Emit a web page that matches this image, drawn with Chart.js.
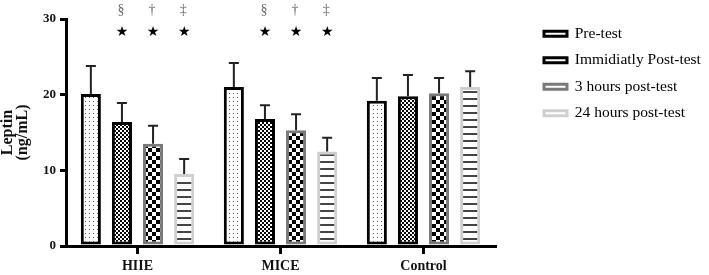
<!DOCTYPE html>
<html>
<head>
<meta charset="utf-8">
<script src="https://cdn.jsdelivr.net/npm/chart.js@4"></script>
<style>
  body { margin: 0; background: #fff; }
  canvas { display: block; }
</style>
</head>
<body>
<canvas id="grafico" width="709" height="275"></canvas>
<script>
// datos
const groups = ['HIIE', 'MICE', 'Control'];
const seriesNames = ['Pre-test', 'Immidiatly Post-test', '3 hours post-test', '24 hours post-test'];
const preTest = [20.1, 21.0, 19.2];
const preTestSD = [3.7, 3.2, 3.0];
const postTest = [16.4, 16.8, 19.8];
const postTestSD = [2.5, 1.8, 2.8];
const post3h = [13.5, 15.3, 20.2];
const post3hSD = [2.4, 2.1, 2.0];
const post24h = [9.5, 12.5, 21.0];
const post24hSD = [2.0, 1.8, 2.1];
const yTicks = [0, 10, 20, 30];
// marcas de significancia (grupos y simbolo por serie)
const sigGroups = [0, 1];
const sigSymbols = ['', '§', '†', '‡'];
const sigStar = '★';

const serif = "'Liberation Serif', 'Times New Roman', serif";

// patrones de relleno
const makePattern = (w, h, draw) => {
  const c = document.createElement('canvas');
  c.width = w; c.height = h;
  const g = c.getContext('2d');
  g.fillStyle = '#fff';
  g.fillRect(0, 0, w, h);
  draw(g);
  return g.createPattern(c, 'repeat');
};
const dots = makePattern(4, 4, g => { g.fillStyle = '#555'; g.fillRect(1, 1, 1, 1); });
const fineChecker = makePattern(4, 4, g => { g.fillStyle = '#000'; g.fillRect(0, 0, 2, 2); g.fillRect(2, 2, 2, 2); });
const bigChecker = makePattern(8, 8, g => { g.fillStyle = '#000'; g.fillRect(0, 0, 4, 4); g.fillRect(4, 4, 4, 4); });
const hLines = makePattern(4, 7, g => { g.fillStyle = '#444'; g.fillRect(0, 0, 4, 2); });

const values = [preTest, postTest, post3h, post24h];
const errors = [preTestSD, postTestSD, post3hSD, post24hSD];
const fills = [dots, fineChecker, bigChecker, hLines];
const borders = ['#000', '#000', '#7a7a7a', '#cfcfcf'];

const errorBars = {
  id: 'errorBars',
  afterDatasetsDraw(chart) {
    const ctx = chart.ctx;
    const y = chart.scales.y;
    ctx.save();
    ctx.strokeStyle = '#222';
    ctx.lineWidth = 2;
    chart.data.datasets.forEach((ds, i) => {
      chart.getDatasetMeta(i).data.forEach((bar, j) => {
        const top = y.getPixelForValue(ds.data[j] + ds.sd[j]);
        ctx.beginPath();
        ctx.moveTo(bar.x, bar.y);
        ctx.lineTo(bar.x, top);
        ctx.moveTo(bar.x - 5, top);
        ctx.lineTo(bar.x + 5, top);
        ctx.stroke();
      });
    });
    // simbolos de significancia
    ctx.textAlign = 'center';
    ctx.textBaseline = 'middle';
    chart.data.datasets.forEach((ds, i) => {
      if (!sigSymbols[i]) return;
      const meta = chart.getDatasetMeta(i);
      sigGroups.forEach(j => {
        const x = meta.data[j].x;
        ctx.fillStyle = '#666';
        ctx.font = '14px ' + serif;
        ctx.fillText(sigSymbols[i], x - 1, y.getPixelForValue(31.1));
        ctx.fillStyle = '#000';
        ctx.font = "14px 'DejaVu Sans'";
        ctx.fillText(sigStar, x, y.getPixelForValue(28.2));
      });
    });
    ctx.restore();
  }
};

const legendPlace = {
  id: 'legendPlace',
  afterInit(chart) {
    const fit = chart.legend.fit;
    chart.legend.fit = function () {
      fit.call(this);
      this.width = 214;
    };
  },
  afterLayout(chart) {
    chart.legend.left = 533;
    chart.legend.top = 15;
  }
};

new Chart(document.getElementById('grafico'), {
  type: 'bar',
  data: {
    labels: groups,
    datasets: seriesNames.map((name, i) => ({
      label: name,
      data: values[i],
      sd: errors[i],
      backgroundColor: fills[i],
      borderColor: borders[i],
      borderWidth: 3,
      borderSkipped: false,
      categoryPercentage: 0.87,
      barPercentage: 0.645
    }))
  },
  plugins: [errorBars, legendPlace],
  options: {
    responsive: false,
    animation: false,
    devicePixelRatio: 1,
    layout: { padding: { top: 19, left: 0, right: 0, bottom: 0 } },
    plugins: {
      tooltip: { enabled: false },
      legend: {
        position: 'right',
        align: 'start',
        labels: {
          boxWidth: 23,
          boxHeight: 5,
          padding: 11,
          color: '#222',
          font: { family: serif, size: 15.5, lineHeight: 1.03 },
          generateLabels: chart => chart.data.datasets.map((ds, i) => ({
            text: ds.label,
            fillStyle: '#fff',
            strokeStyle: ds.borderColor,
            lineWidth: 3,
            datasetIndex: i,
            hidden: false
          }))
        }
      }
    },
    scales: {
      x: {
        afterFit: s => { s.height = 29; },
        grid: {
          display: true,
          drawOnChartArea: false,
          drawTicks: true,
          offset: false,
          tickLength: 8,
          lineWidth: 3,
          color: '#000'
        },
        border: { display: true, width: 3, color: '#000' },
        ticks: {
          padding: 4,
          color: '#111',
          font: { family: serif, size: 14, weight: 'bold' }
        }
      },
      y: {
        min: 0,
        max: 30,
        afterFit: s => { s.width = 66; },
        afterBuildTicks: s => { s.ticks = yTicks.map(v => ({ value: v })); },
        grid: {
          drawOnChartArea: false,
          drawTicks: true,
          tickLength: 6,
          lineWidth: 3,
          color: '#000'
        },
        border: { display: true, width: 3, color: '#000' },
        ticks: {
          padding: 4,
          color: '#111',
          font: { family: serif, size: 13, weight: 'bold' }
        },
        title: {
          display: true,
          text: ['Leptin', '(ng/mL)'],
          color: '#111',
          padding: 1,
          font: { family: serif, size: 16, weight: 'bold', lineHeight: 0.9 }
        }
      }
    }
  }
});
</script>
</body>
</html>
